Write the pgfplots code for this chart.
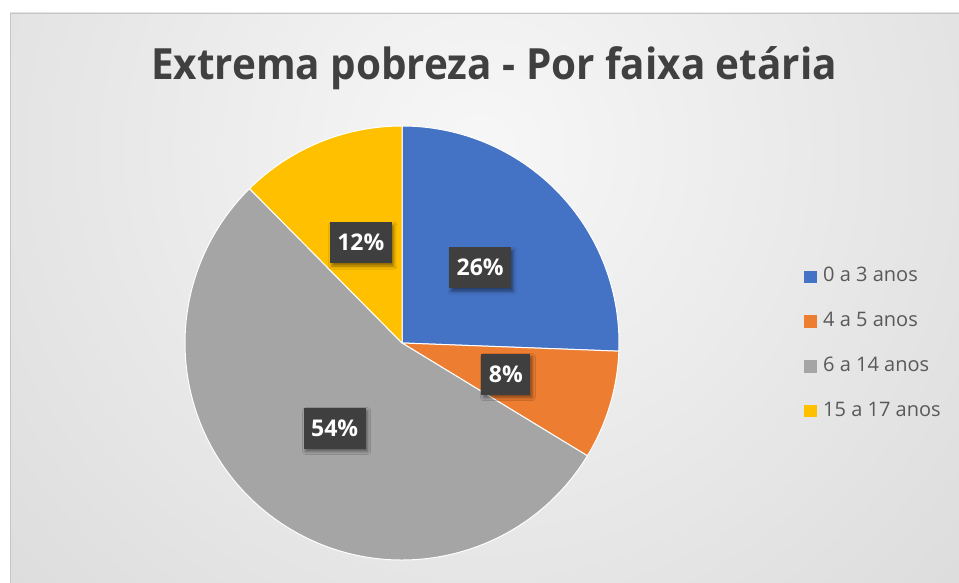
\documentclass[border=0pt]{standalone}
\usepackage{fontspec}
\setmainfont{Open Sans}
\usepackage{pgfplots}
\usepackage{pgfplotstable}
\pgfplotsset{compat=1.18}
\usetikzlibrary{shadows.blur}

\definecolor{pieblue}{HTML}{4472C4}
\definecolor{pieorange}{HTML}{ED7D31}
\definecolor{piegray}{HTML}{A5A5A5}
\definecolor{pieyellow}{HTML}{FFC000}
\definecolor{titlegray}{HTML}{404040}
\definecolor{legendgray}{HTML}{595959}
\definecolor{boxgray}{HTML}{3F3F3F}
\definecolor{bgin}{HTML}{F7F7F7}
\definecolor{bgout}{HTML}{C2C2C2}

\pgfdeclareradialshading{bgshade}{\pgfpoint{0bp}{0bp}}{color(0bp)=(bgin); color(25bp)=(bgout); color(50bp)=(bgout)}

% share of each age group, in percent
\pgfplotstableread{
group value
0 25.6
1 8.1
2 53.9
3 12.4
}\pietable

\tikzset{lbl/.style={fill=boxgray, text=white, font=\fontsize{23}{26}\selectfont\bfseries,
  inner xsep=7.5pt, inner ysep=0pt, minimum height=41pt,
  blur shadow={shadow xshift=2pt, shadow yshift=-3pt, shadow blur radius=3pt, shadow opacity=45}}}

\newcommand\pieslice[2]{%
  \pgfplotstablegetelem{#1}{value}\of\pietable
  \pgfmathsetmacro\endang{\startang-3.6*\pgfplotsretval}%
  \edef\temp{\noexpand\fill[#2, draw=white, line width=1pt, line join=round]
    (axis cs:0,0) -- (axis cs:{cos(\startang)},{sin(\startang)})
    arc[start angle=\startang, end angle=\endang, radius=217pt] -- cycle;}%
  \temp
  \global\let\startang\endang
}
\newcommand\pielabel[1]{%
  \pgfplotstablegetelem{#1}{value}\of\pietable
  \pgfmathsetmacro\endang{\startang-3.6*\pgfplotsretval}%
  \pgfmathsetmacro\midang{(\startang+\endang)/2}%
  \pgfmathtruncatemacro\pct{round(\pgfplotsretval)}%
  \edef\temp{\noexpand\node[lbl] at (axis cs:{0.5*cos(\midang)},{0.5*sin(\midang)}) {\pct\noexpand\%};}%
  \temp
  \global\let\startang\endang
}

\begin{document}
\begin{tikzpicture}[x=1pt,y=1pt]
\useasboundingbox (0,0) rectangle (959,583);
\fill[white] (0,0) rectangle (959,583);
\begin{scope}
  \clip (10,0) rectangle (959,570);
  \shade[shading=bgshade] (480,433) circle (1300);
\end{scope}
\draw[gray!45, line width=0.8pt] (10,0) -- (10,570) -- (959,570);

\node[anchor=base, text=titlegray, inner sep=0pt]
  at (494,503) {\scalebox{0.94}[1]{\fontsize{43}{50}\selectfont\bfseries Extrema pobreza - Por faixa etária}};

\begin{axis}[
  at={(402pt,240pt)}, anchor=center,
  x=217pt, y=217pt,
  xmin=-1, xmax=1, ymin=-1, ymax=1,
  hide axis, clip=false,
  legend image code/.code={\fill[#1, draw=none] (0pt,-6.3pt) rectangle (12.6pt,6.3pt);},
  legend style={at={(axis description cs:1.4263,0.4977)}, anchor=west,
    draw=none, fill=none, inner xsep=0pt, inner ysep=0pt,
    font=\fontsize{20}{24}\selectfont, row sep=25.7pt, cells={anchor=west},
    nodes={inner sep=0pt, text height=14.5pt, text depth=4.5pt, text=legendgray},
    /tikz/every odd column/.append style={column sep=6.4pt}},
]
\gdef\startang{90}
\pieslice{0}{pieblue}
\pieslice{1}{pieorange}
\pieslice{2}{piegray}
\pieslice{3}{pieyellow}
\gdef\startang{90}
\pielabel{0}
\pielabel{1}
\pielabel{2}
\pielabel{3}

\addlegendimage{fill=pieblue}
\addlegendentry{0 a 3 anos}
\addlegendimage{fill=pieorange}
\addlegendentry{4 a 5 anos}
\addlegendimage{fill=piegray}
\addlegendentry{6 a 14 anos}
\addlegendimage{fill=pieyellow}
\addlegendentry{15 a 17 anos}
\end{axis}
\end{tikzpicture}
\end{document}
